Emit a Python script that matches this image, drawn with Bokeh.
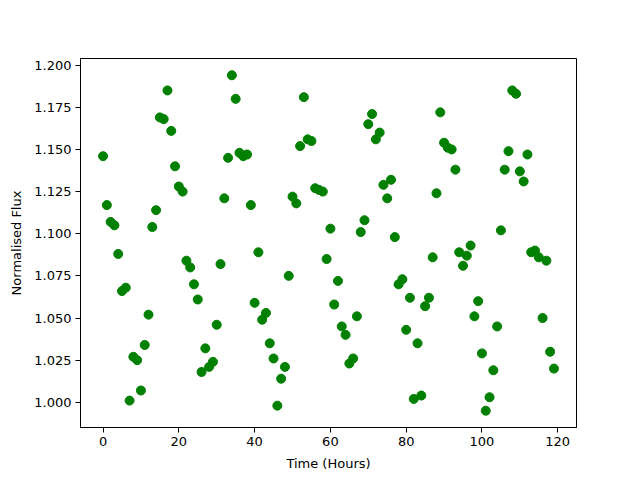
from bokeh.plotting import figure
from bokeh.models import FixedTicker, Range1d, PrintfTickFormatter
from bokeh.embed import file_html
from bokeh.resources import INLINE

hours = list(range(120))
flux = [
    1.146, 1.117, 1.107, 1.105, 1.088, 1.066, 1.068, 1.001, 1.027, 1.025,
    1.007, 1.034, 1.052, 1.104, 1.114, 1.169, 1.168, 1.185, 1.161, 1.140,
    1.128, 1.125, 1.084, 1.080, 1.070, 1.061, 1.018, 1.032, 1.021, 1.024,
    1.046, 1.082, 1.121, 1.145, 1.194, 1.180, 1.148, 1.146, 1.147, 1.117,
    1.059, 1.089, 1.049, 1.053, 1.035, 1.026, 0.998, 1.014, 1.021, 1.075,
    1.122, 1.118, 1.152, 1.181, 1.156, 1.155, 1.127, 1.126, 1.125, 1.085,
    1.103, 1.058, 1.072, 1.045, 1.040, 1.023, 1.026, 1.051, 1.101, 1.108,
    1.165, 1.171, 1.156, 1.160, 1.129, 1.121, 1.132, 1.098, 1.070, 1.073,
    1.043, 1.062, 1.002, 1.035, 1.004, 1.057, 1.062, 1.086, 1.124, 1.172,
    1.154, 1.151, 1.150, 1.138, 1.089, 1.081, 1.087, 1.093, 1.051, 1.060,
    1.029, 0.995, 1.003, 1.019, 1.045, 1.102, 1.138, 1.149, 1.185, 1.183,
    1.137, 1.131, 1.147, 1.089, 1.090, 1.086, 1.050, 1.084, 1.030, 1.020,
]
x_ticks = [0, 20, 40, 60, 80, 100, 120]
y_ticks = [1.000, 1.025, 1.050, 1.075, 1.100, 1.125, 1.150, 1.175, 1.200]

xmin, xmax = min(hours), max(hours)
ymin, ymax = min(flux), max(flux)
xm = 0.05 * (xmax - xmin)
ym = 0.05 * (ymax - ymin)

p = figure(
    width=632, height=472,
    frame_width=496, frame_height=369,
    min_border_left=80, min_border_top=58, min_border_right=56, min_border_bottom=45,
    output_backend="svg", toolbar_location=None,
    x_range=Range1d(xmin - xm, xmax + xm),
    y_range=Range1d(ymin - ym, ymax + ym),
)
p.scatter(hours, flux, size=9, color="#008000", line_color="#008000")

p.xgrid.visible = False
p.ygrid.visible = False
p.outline_line_color = "black"
p.outline_line_alpha = 1.0
p.outline_line_width = 1

p.xaxis.ticker = FixedTicker(ticks=x_ticks)
p.yaxis.ticker = FixedTicker(ticks=y_ticks)
p.yaxis.formatter = PrintfTickFormatter(format="%.3f")
p.xaxis.axis_label = "Time (Hours)"
p.yaxis.axis_label = "Normalised Flux"

for ax in (p.xaxis, p.yaxis):
    ax.minor_tick_line_color = None
    ax.major_tick_in = 0
    ax.major_tick_out = 5
    ax.major_tick_line_color = "black"
    ax.axis_line_color = "black"
    ax.major_label_text_font = "DejaVu Sans"
    ax.major_label_text_font_size = "13px"
    ax.major_label_text_color = "black"
    ax.axis_label_text_font = "DejaVu Sans"
    ax.axis_label_text_font_size = "13px"
    ax.axis_label_text_font_style = "normal"
    ax.axis_label_text_color = "black"
    ax.major_label_standoff = 4
    ax.axis_label_standoff = 7

open("out.html", "w").write(file_html(p, INLINE))
